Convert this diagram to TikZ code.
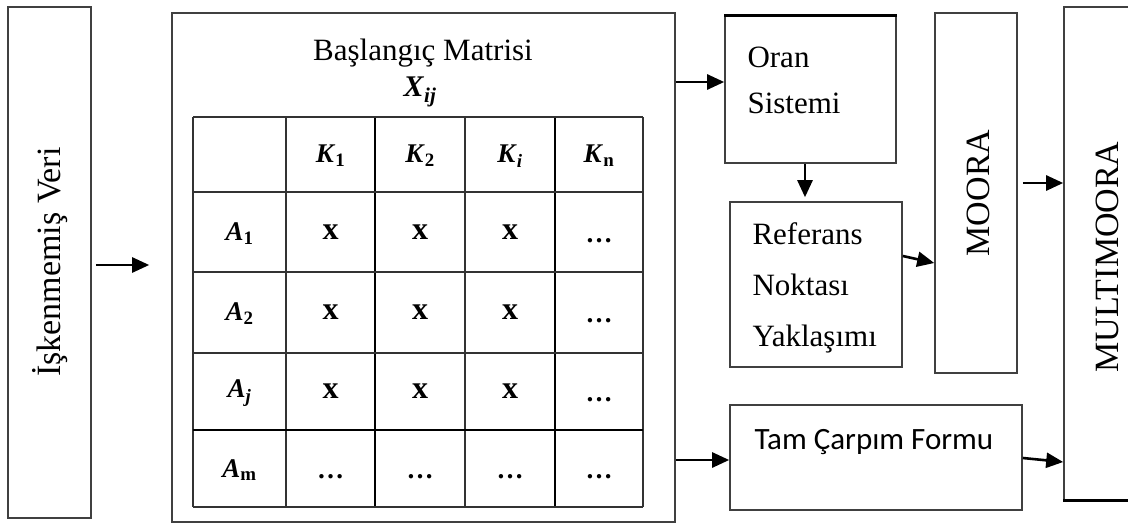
\documentclass[tikz,border=0pt]{standalone}
\usepackage{fontspec}
\setmainfont{Liberation Serif}
\newfontfamily\calibfont{Carlito}
\usetikzlibrary{arrows.meta}
% bold italic symbol with a subscript
\newcommand\symsub[2]{\textbf{\textit{#1}}\textsubscript{\textbf{#2}}}
\begin{document}
\begin{tikzpicture}[x=1pt,y=-1pt,
  box/.style={draw=black!75, line width=1.6pt, inner sep=0pt},
  arr/.style={line width=2.6pt, -{Triangle[length=17pt,width=15pt]}},
  gridline/.style={draw=black!80, line width=1.8pt},
  gridthick/.style={draw=black, line width=2.8pt},
  lbl/.style={font=\fontsize{31}{37}\selectfont},
  side/.style={font=\fontsize{34}{40}\selectfont, rotate=90},
  head/.style={font=\fontsize{27}{30}\selectfont},
  xmark/.style={font=\fontsize{32}{34}\selectfont\bfseries},
  dots/.style={font=\fontsize{27}{30}\selectfont\bfseries},
  ]
\useasboundingbox (0,0) rectangle (1128,527);

% outer blocks
\node[box, minimum width=83pt, minimum height=511pt] (raw) at (49.5,262.5) {};
\node[side] (rawtxt) at (50,262) {İşkenmemiş Veri};

\node[box, minimum width=503pt, minimum height=509pt] (mat) at (423.5,267.5) {};
\node[lbl] (mattitle) at (423,53) {Başlangıç Matrisi};
\node[font=\fontsize{30}{34}\selectfont] (matsym) at (420,92) {\symsub{X}{\textit{ij}}};

\node[box, minimum width=171pt, minimum height=147pt] (oran) at (810.5,89.5) {};
\draw[black, line width=2.8pt] (oran.north west) -- (oran.north east);
\node[lbl, font=\fontsize{31}{46}\selectfont, align=left, anchor=west] (orantxt) at (744,80) {Oran\\Sistemi};

\node[box, minimum width=172pt, minimum height=165pt] (ref) at (816,284.5) {};
\node[lbl, font=\fontsize{31}{51}\selectfont, align=left, anchor=west] (reftxt) at (749,288) {Referans\\Noktası\\Yaklaşımı};

\node[box, minimum width=82pt, minimum height=360pt] (moora) at (976,193) {};
\node[side] (mooratxt) at (978,193) {MOORA};

\node[box, minimum width=292pt, minimum height=105pt] (tam) at (876,457.5) {};
\node[font=\calibfont\fontsize{31}{37}\selectfont, anchor=west] (tamtxt) at (751,442) {Tam Çarpım Formu};

\node[box, minimum width=92pt, minimum height=493pt] (multi) at (1110,253.5) {};
\draw[black, line width=2.8pt] (multi.south west) -- (multi.south east);
\node[side] (multitxt) at (1107,257) {MULTIMOORA};

% decision matrix grid
\foreach \xx in {193,286,465,643} \draw[gridline] (\xx,117) -- (\xx,507);
\foreach \xx in {375,555} \draw[gridthick] (\xx,117) -- (\xx,507);
\foreach \yy in {117,192,272,353,507} \draw[gridline] (193,\yy) -- (643,\yy);
\draw[gridthick] (193,430) -- (643,430);

% column headers
\node[head] (k1) at (330.5,156) {\symsub{K}{1}};
\node[head] (k2) at (420,156) {\symsub{K}{2}};
\node[head] (ki) at (510,156) {\symsub{K}{\textit{i}}};
\node[head] (kn) at (599,156) {\symsub{K}{n}};

% row headers
\node[head] (a1) at (239.5,234) {\symsub{A}{1}};
\node[head] (a2) at (239.5,314) {\symsub{A}{2}};
\node[head] (aj) at (239.5,393) {\symsub{A}{\textit{j}}};
\node[head] (am) at (239.5,470) {\symsub{A}{m}};

% cell entries
\foreach \yy/\r in {232/1,312.5/2,391.5/3}{
  \node[xmark] (c\r-1) at (330.5,\yy) {x};
  \node[xmark] (c\r-2) at (420,\yy) {x};
  \node[xmark] (c\r-3) at (510,\yy) {x};
  \node[dots, anchor=base] (c\r-4) at (599,\yy+10) {\ldots};
}
\foreach \xx/\c in {330.5/1,420/2,510/3,599/4}
  \node[dots, anchor=base] (c4-\c) at (\xx,478) {\ldots};

% connectors
\draw[arr, shorten <=4pt, shorten >=22pt] (raw.east |- 0,265) -- (mat.west |- 0,265);
\draw[arr] (mat.east |- 0,82) -- (oran.west |- 0,82);
\draw[arr, shorten >=4pt] (oran.south -| 805,0) -- (ref.north -| 805,0);
\draw[arr] (ref.east |- 0,256) -- (moora.west |- 0,263);
\draw[arr, shorten <=5pt] (moora.east |- 0,183) -- (multi.west |- 0,183);
\draw[arr] (mat.east |- 0,460) -- (tam.west |- 0,460);
\draw[arr] (tam.east |- 0,458) -- (multi.west |- 0,462);
\end{tikzpicture}
\end{document}
